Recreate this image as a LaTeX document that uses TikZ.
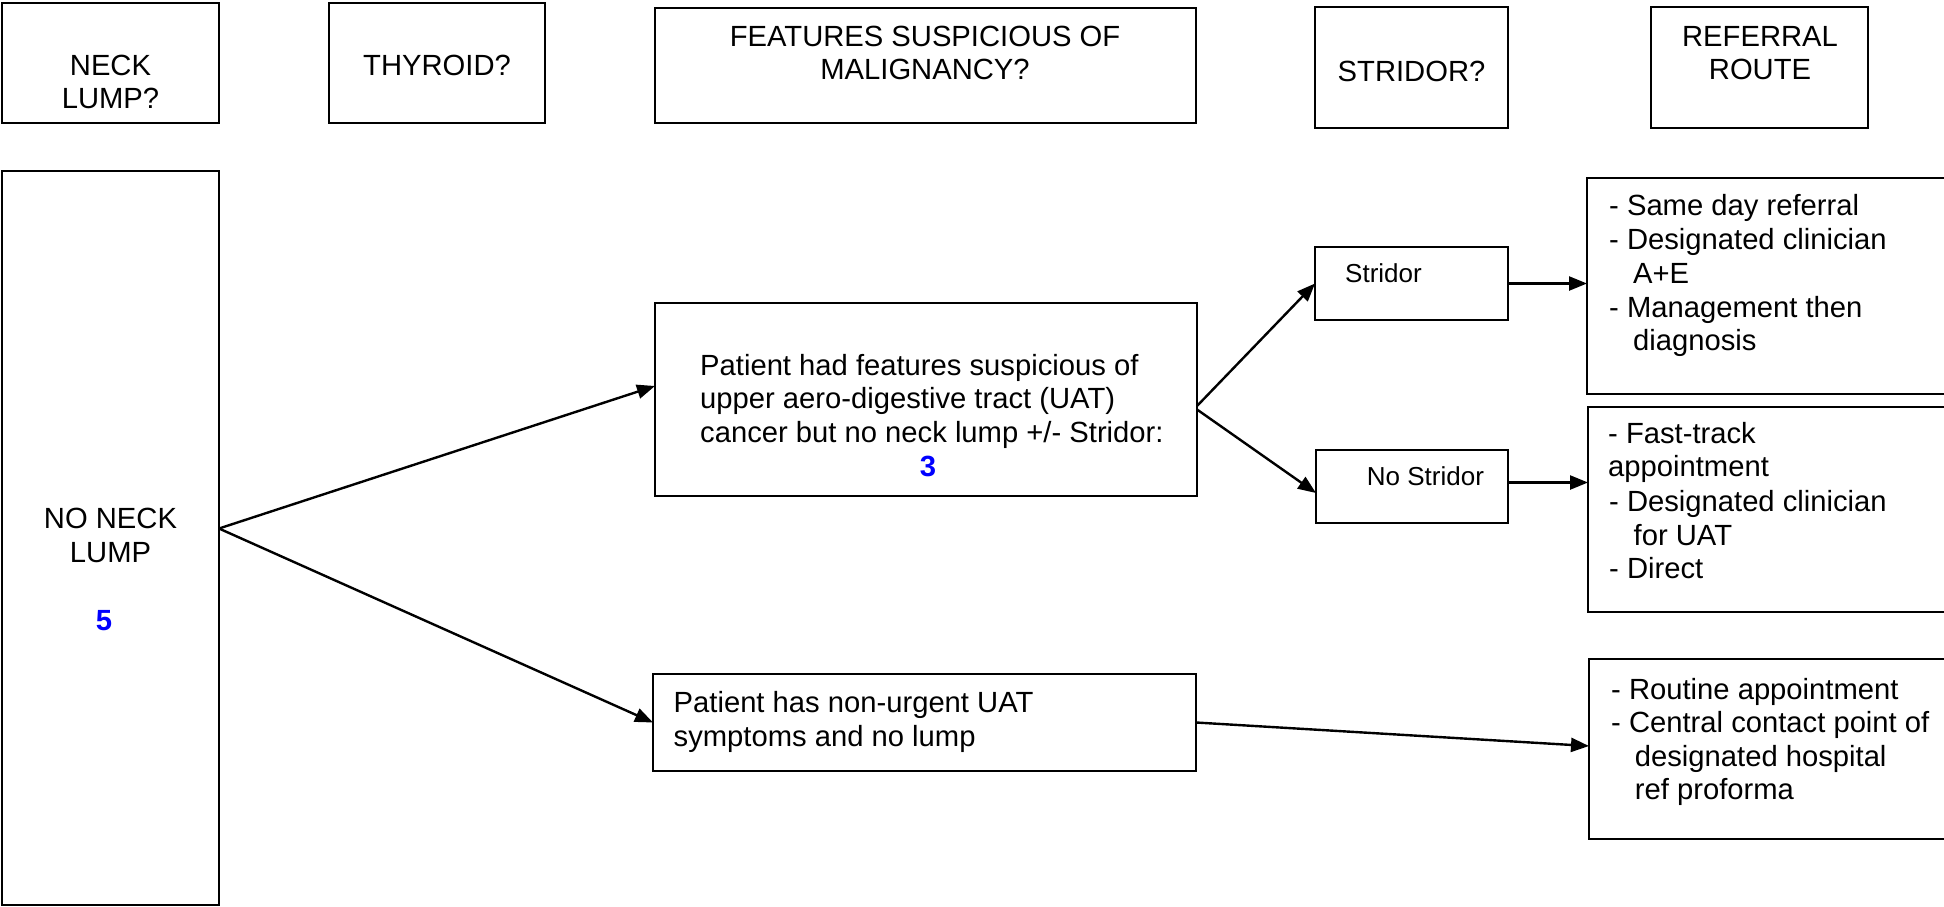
\documentclass[tikz,border=0pt]{standalone}
\usepackage{fontspec}
\setmainfont{Liberation Sans}
\usetikzlibrary{arrows.meta}
\definecolor{numblue}{RGB}{0,0,255}
\begin{document}
\begin{tikzpicture}[x=1pt,y=-1pt,
  box/.style={draw=black, line width=2pt, inner sep=0pt, outer sep=0pt, rectangle},
  txt/.style={inner sep=0pt, anchor=base west, font=\fontsize{29.2}{33.5}\selectfont},
  txtc/.style={inner sep=0pt, anchor=base, font=\fontsize{29.2}{33.5}\selectfont},
  small/.style={inner sep=0pt, anchor=base west, font=\fontsize{26}{30}\selectfont},
  num/.style={inner sep=0pt, anchor=base, text=numblue, font=\fontsize{29.2}{33.5}\selectfont\bfseries},
  conn/.style={draw=black, line width=2.4pt, -{Triangle[length=18pt,width=14pt]}}]
\useasboundingbox (0,0) rectangle (1944,907);
\clip (0,0) rectangle (1944,907);
\fill[white] (0,0) rectangle (1944,907);
% header boxes
\node[box, minimum width=217pt, minimum height=120pt] (hNeck) at (110.5,63) {};
\node[box, minimum width=216pt, minimum height=120pt] (hThy) at (437,63) {};
\node[box, minimum width=541pt, minimum height=115pt] (hFeat) at (925.5,65.5) {};
\node[box, minimum width=193pt, minimum height=121pt] (hStr) at (1411.5,67.5) {};
\node[box, minimum width=217pt, minimum height=121pt] (hRef) at (1759.5,67.5) {};
% body boxes
\node[box, minimum width=217pt, minimum height=734pt] (noLump) at (110.5,538) {};
\node[box, minimum width=542pt, minimum height=193pt] (patient) at (926,399.5) {};
\node[box, minimum width=543pt, minimum height=97pt] (nonurg) at (924.5,722.5) {};
\node[box, minimum width=193pt, minimum height=73pt] (stridor) at (1411.5,283.5) {};
\node[box, minimum width=192pt, minimum height=73pt] (nostr) at (1412,486.5) {};
\node[box, minimum width=373pt, minimum height=216pt] (ref1) at (1773.5,286) {};
\node[box, minimum width=372pt, minimum height=205pt] (ref2) at (1774,509.5) {};
\node[box, minimum width=371pt, minimum height=180pt] (ref3) at (1774.5,749) {};
% header texts
\node[txtc] (tNeckA) at (110.5,76) {NECK};
\node[txtc] (tNeckB) at (110.5,108.3) {LUMP?};
\node[txtc] (tThy) at (437,76) {THYROID?};
\node[txtc] (tFeatA) at (925,46.7) {FEATURES SUSPICIOUS OF};
\node[txtc] (tFeatB) at (925,80) {MALIGNANCY?};
\node[txtc] (tStr) at (1411.5,81.7) {STRIDOR?};
\node[txtc] (tRefA) at (1760,46.7) {REFERRAL};
\node[txtc] (tRefB) at (1760,80) {ROUTE};
% no neck lump
\node[txtc] (tNoA) at (110.5,528) {NO NECK};
\node[txtc] (tNoB) at (110.5,562) {LUMP};
\node[num] (tNoN) at (104,630.4) {5};
% patient
\node[txt] (tPatA) at (700,375) {Patient had features suspicious of};
\node[txt] (tPatB) at (700,408.5) {upper aero-digestive tract (UAT)};
\node[txt] (tPatC) at (700,442) {cancer but no neck lump +/- Stridor:};
\node[num] (tPatN) at (928,476.7) {3};
% non-urgent
\node[txt] (tNonA) at (673.5,712.7) {Patient has non-urgent UAT};
\node[txt] (tNonB) at (673.5,746) {symptoms and no lump};
% stridor
\node[small] (tS) at (1345,282.7) {Stridor};
\node[small] (tNS) at (1366.7,485) {No Stridor};
% referral 1
\node[txt] (r1a) at (1609,215) {- Same day referral};
\node[txt] (r1b) at (1609,249) {- Designated clinician};
\node[txt] (r1c) at (1633,283) {A+E};
\node[txt] (r1d) at (1609,317) {- Management then};
\node[txt] (r1e) at (1633,350) {diagnosis};
% referral 2
\node[txt] (r2a) at (1608,443) {- Fast-track};
\node[txt] (r2b) at (1608,476.7) {appointment};
\node[txt] (r2c) at (1609,511.5) {- Designated clinician};
\node[txt] (r2d) at (1633.5,545) {for UAT};
\node[txt] (r2e) at (1609,578.5) {- Direct};
% referral 3
\node[txt] (r3a) at (1611,699.3) {- Routine appointment};
\node[txt] (r3b) at (1611,732.7) {- Central contact point of};
\node[txt] (r3c) at (1634.7,766) {designated hospital};
\node[txt] (r3d) at (1634.7,799.3) {ref proforma};
% connectors
\draw[conn] ([yshift=9.5pt]noLump.east) -- ([yshift=13.5pt]patient.west);
\draw[conn] ([yshift=9.5pt]noLump.east) -- (nonurg.west);
\draw[conn] ([yshift=-6.5pt]patient.east) -- (stridor.west);
\draw[conn] ([yshift=-10pt]patient.east) -- ([yshift=-6.5pt]nostr.west);
\draw[conn] (stridor.east) -- (stridor.east -| ref1.west);
\draw[conn] ([yshift=4pt]nostr.east) -- ([yshift=4pt]nostr.east -| ref2.west);
\draw[conn] (nonurg.east) -- ([yshift=3pt]ref3.west);
\end{tikzpicture}
\end{document}
